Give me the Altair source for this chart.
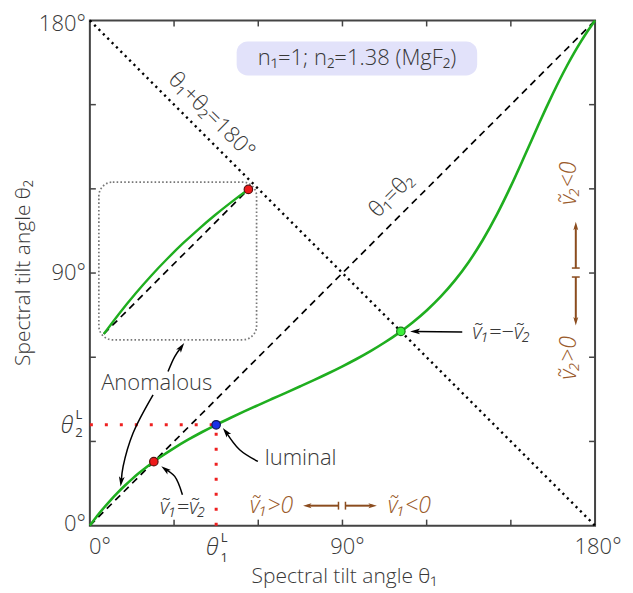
import altair as alt
import pandas as pd

# ---------------- data ----------------
theta1 = [0, 2.5, 5, 7.5, 10, 12.5, 15, 17.5, 20, 22.5, 25, 30, 35, 40, 45, 50, 55, 60, 65, 70,
          75, 80, 85, 90, 95, 100, 105, 110, 115, 120, 125, 130, 135, 140, 145, 150, 155, 160,
          162.5, 165, 167.5, 170, 172.5, 175, 177.5, 180]
theta2 = [0, 3.32, 6.38, 9.22, 11.85, 14.30, 16.58, 18.71, 20.70, 22.58, 24.35, 27.63, 30.61,
          33.36, 35.93, 38.36, 40.70, 42.96, 45.19, 47.41, 49.65, 51.93, 54.29, 56.76, 59.37,
          62.18, 65.24, 68.61, 72.39, 76.67, 81.58, 87.29, 93.96, 101.76, 110.78, 120.95, 131.94,
          143.17, 148.67, 153.98, 159.06, 163.86, 168.35, 172.53, 176.41, 180]

# special points: v1=v2, luminal, v1=-v2
pt_t1 = [22.79, 45.0, 110.81]
pt_t2 = [22.79, 35.93, 69.19]
pt_fill = ["#ee1a1a", "#1a30e8", "#3cf03c"]
pt_stroke = ["#5a1010", "#10185a", "#187818"]

tick_vals = [30, 60, 90, 120, 150]

# inset (magnified anomalous region) placement
INSET_X0, INSET_Y0, INSET_K = 4.98, 68.3, 2.26
inset_box = [3.2, 59.4, 66.2, 122.4]          # x, x2, y, y2

# parameter box
param_box = [52.3, 138.0, 160.4, 172.5]
param_text = "n\u2081=1; n\u2082=1.38 (MgF\u2082)"

# annotation arrows (black)
arr_id = ["a", "a", "a", "b", "b", "b", "b", "c", "c", "c", "d", "d", "d", "e", "e"]
arr_t1 = [27.85, 30.24, 32.54, 22.52, 15.40, 11.85, 11.17, 59.87, 53.36, 48.52, 32.98, 30.24, 26.93, 132.69, 115.97]
arr_t2 = [54.89, 60.23, 63.53, 46.60, 32.98, 21.10, 15.76, 22.87, 27.04, 33.33, 11.03, 17.54, 20.03, 69.01, 69.19]
arr_i = [0, 1, 2, 0, 1, 2, 3, 0, 1, 2, 0, 1, 2, 0, 1]
head_t1 = [32.54, 11.17, 48.52, 26.93, 115.97]
head_t2 = [63.53, 15.76, 33.33, 20.03, 69.19]
head_ang = [35, 187, 322, 307, 270]

# brown velocity-sign arrows
br_id = ["l", "l", "r", "r", "u", "u", "d", "d"]
br_t1 = [88.58, 77.55, 91.07, 100.67, 173.14, 173.14, 173.14, 173.14]
br_t2 = [7.11, 7.11, 7.11, 7.11, 91.78, 106.72, 88.58, 72.93]
br_head_t1 = [77.55, 100.67, 173.14, 173.14]
br_head_t2 = [7.11, 7.11, 106.72, 72.93]
br_head_ang = [270, 90, 0, 180]

# in-plot labels
lab_text = ["\u03b8\u2081+\u03b8\u2082=180\u00b0", "\u03b8\u2081=\u03b8\u2082", "Anomalous", "luminal"]
lab_t1 = [43.4, 107.4, 23.8, 75.1]
lab_t2 = [146.2, 117.8, 50.9, 24.2]
lab_ang = [45, 315, 0, 0]

v_text = ["\u1e7d\u2081=\u1e7d\u2082", "\u1e7d\u2081=\u2212\u1e7d\u2082"]
v_t1 = [33.1, 146.6]
v_t2 = [6.8, 69.0]

bv_text = ["\u1e7d\u2081>0", "\u1e7d\u2081<0", "\u1e7d\u2082<0", "\u1e7d\u2082>0"]
bv_t1 = [64.7, 113.8, 170.8, 170.8]
bv_t2 = [7.1, 7.1, 122.0, 59.8]
bv_ang = [0, 0, 270, 270]

tick_label_vals = [0, 90, 180]
tick_label_text = ["0\u00b0", "90\u00b0", "180\u00b0"]

# ---------------- styling ----------------
W = H = 506
FONT = "Open Sans"
TXT = "#383838"
BROWN = "#8b4c1e"
BROWN_T = "#9a5a2a"
GREEN = "#1fae1f"
XS = alt.Scale(domain=[0, 180], nice=False, zero=False)
YS = alt.Scale(domain=[0, 180], nice=False, zero=False)
HEAD = "M0,-1L0.55,0.9L0,0.45L-0.55,0.9Z"


def X(f):
    return alt.X(f"{f}:Q", scale=XS, axis=None)


def Y(f):
    return alt.Y(f"{f}:Q", scale=YS, axis=None)


layers = []

# parameter box
box_df = pd.DataFrame({"x": [param_box[0]], "x2": [param_box[1]], "y": [param_box[2]], "y2": [param_box[3]]})
layers.append(alt.Chart(box_df).mark_rect(fill="#e2e2fa", cornerRadius=11).encode(
    x=X("x"), x2="x2:Q", y=Y("y"), y2="y2:Q"))
layers.append(alt.Chart(pd.DataFrame({"x": [sum(param_box[:2]) / 2], "y": [sum(param_box[2:]) / 2], "t": [param_text]}))
              .mark_text(font=FONT, fontSize=22, fontWeight=300, color=TXT)
              .encode(x=X("x"), y=Y("y"), text="t:N"))

# ticks (inside, all four sides)
tdf = pd.DataFrame({"v": tick_vals})
tk = dict(color="#444444", strokeWidth=1.5)
layers.append(alt.Chart(tdf).mark_rule(**tk).encode(x=X("v"), y=alt.value(H), y2=alt.value(H - 6)))
layers.append(alt.Chart(tdf).mark_rule(**tk).encode(x=X("v"), y=alt.value(0), y2=alt.value(6)))
layers.append(alt.Chart(tdf).mark_rule(**tk).encode(y=Y("v"), x=alt.value(0), x2=alt.value(6)))
layers.append(alt.Chart(tdf).mark_rule(**tk).encode(y=Y("v"), x=alt.value(W), x2=alt.value(W - 6)))

# reference lines
sum_df = pd.DataFrame({"t1": [0, 180], "t2": [180, 0]})
diag_df = pd.DataFrame({"t1": [0, 180], "t2": [0, 180]})
layers.append(alt.Chart(sum_df).mark_line(color="black", strokeWidth=2.4, strokeDash=[2.2, 4.0]).encode(
    x=X("t1"), y=Y("t2")))
layers.append(alt.Chart(diag_df).mark_line(color="black", strokeWidth=1.7, strokeDash=[7, 5]).encode(
    x=X("t1"), y=Y("t2")))

# red guide lines to luminal point
guide_h = pd.DataFrame({"x": [0], "x2": [pt_t1[1]], "y": [pt_t2[1]]})
guide_v = pd.DataFrame({"x": [pt_t1[1]], "y": [0], "y2": [pt_t2[1]]})
red = dict(color="#ee2020", strokeWidth=3, strokeDash=[3, 12])
layers.append(alt.Chart(guide_h).mark_rule(**red).encode(x=X("x"), x2="x2:Q", y=Y("y")))
layers.append(alt.Chart(guide_v).mark_rule(**red).encode(x=X("x"), y=Y("y"), y2="y2:Q"))

# main curve
curve_df = pd.DataFrame({"t1": theta1, "t2": theta2})
layers.append(alt.Chart(curve_df).mark_line(color=GREEN, strokeWidth=2.6, interpolate="monotone").encode(
    x=X("t1"), y=Y("t2")))

# inset
ib = pd.DataFrame({"x": [inset_box[0]], "x2": [inset_box[1]], "y": [inset_box[2]], "y2": [inset_box[3]]})
layers.append(alt.Chart(ib).mark_rect(fillOpacity=0, stroke="#777777", strokeWidth=1.7,
                                      strokeDash=[1.6, 2.2], cornerRadius=14).encode(
    x=X("x"), x2="x2:Q", y=Y("y"), y2="y2:Q"))
in_t1 = [a for a in theta1 if a < pt_t1[0]] + [pt_t1[0]]
in_t2 = theta2[:len(in_t1) - 1] + [pt_t2[0]]
inset_df = pd.DataFrame({"t1": [INSET_X0 + INSET_K * a for a in in_t1],
                         "t2": [INSET_Y0 + INSET_K * b for b in in_t2]})
inset_diag = pd.DataFrame({"t1": [INSET_X0, INSET_X0 + INSET_K * pt_t1[0]],
                           "t2": [INSET_Y0, INSET_Y0 + INSET_K * pt_t2[0]]})
layers.append(alt.Chart(inset_diag).mark_line(color="black", strokeWidth=1.7, strokeDash=[7, 5]).encode(
    x=X("t1"), y=Y("t2")))
layers.append(alt.Chart(inset_df).mark_line(color=GREEN, strokeWidth=2.4, interpolate="monotone").encode(
    x=X("t1"), y=Y("t2")))

# annotation arrows
arr_df = pd.DataFrame({"id": arr_id, "t1": arr_t1, "t2": arr_t2, "i": arr_i})
layers.append(alt.Chart(arr_df).mark_line(color="black", strokeWidth=1.5, interpolate="catmull-rom").encode(
    x=X("t1"), y=Y("t2"), detail="id:N", order="i:Q"))
head_df = pd.DataFrame({"t1": head_t1, "t2": head_t2, "a": head_ang})
layers.append(alt.Chart(head_df).mark_point(shape=HEAD, filled=True, color="black", opacity=1, size=110).encode(
    x=X("t1"), y=Y("t2"), angle=alt.Angle("a:Q", scale=None)))

# brown arrows
br_df = pd.DataFrame({"id": br_id, "t1": br_t1, "t2": br_t2})
layers.append(alt.Chart(br_df).mark_line(color=BROWN, strokeWidth=2).encode(
    x=X("t1"), y=Y("t2"), detail="id:N"))
brh_df = pd.DataFrame({"t1": br_head_t1, "t2": br_head_t2, "a": br_head_ang})
layers.append(alt.Chart(brh_df).mark_point(shape=HEAD, filled=True, color=BROWN, opacity=1, size=80).encode(
    x=X("t1"), y=Y("t2"), angle=alt.Angle("a:Q", scale=None)))
bar_h = pd.DataFrame({"x": [br_t1[0], br_t1[2]], "y": [br_t2[0] - 1.4] * 2, "y2": [br_t2[0] + 1.4] * 2})
bar_v = pd.DataFrame({"y": [br_t2[4], br_t2[6]], "x": [br_t1[4] - 1.4] * 2, "x2": [br_t1[4] + 1.4] * 2})
layers.append(alt.Chart(bar_h).mark_rule(color=BROWN, strokeWidth=1.5).encode(x=X("x"), y=Y("y"), y2="y2:Q"))
layers.append(alt.Chart(bar_v).mark_rule(color=BROWN, strokeWidth=1.5).encode(y=Y("y"), x=X("x"), x2="x2:Q"))

# special points
pts_df = pd.DataFrame({"t1": pt_t1 + [INSET_X0 + INSET_K * pt_t1[0]],
                       "t2": pt_t2 + [INSET_Y0 + INSET_K * pt_t2[0]],
                       "f": pt_fill + [pt_fill[0]], "s": pt_stroke + [pt_stroke[0]]})
layers.append(alt.Chart(pts_df).mark_point(shape="circle", filled=True, opacity=1, size=72, strokeWidth=1.2).encode(
    x=X("t1"), y=Y("t2"), fill=alt.Fill("f:N", scale=None), stroke=alt.Stroke("s:N", scale=None)))

# labels inside plot
lab_df = pd.DataFrame({"t1": lab_t1, "t2": lab_t2, "t": lab_text, "a": lab_ang})
layers.append(alt.Chart(lab_df).mark_text(font=FONT, fontSize=22, fontWeight=300, color=TXT).encode(
    x=X("t1"), y=Y("t2"), text="t:N", angle=alt.Angle("a:Q", scale=None)))
v_df = pd.DataFrame({"t1": v_t1, "t2": v_t2, "t": v_text})
layers.append(alt.Chart(v_df).mark_text(font=FONT, fontSize=22, fontWeight=300, fontStyle="italic", color=TXT).encode(
    x=X("t1"), y=Y("t2"), text="t:N"))
bv_df = pd.DataFrame({"t1": bv_t1, "t2": bv_t2, "t": bv_text, "a": bv_ang})
layers.append(alt.Chart(bv_df).mark_text(font=FONT, fontSize=23, fontWeight=300, fontStyle="italic", color=BROWN_T).encode(
    x=X("t1"), y=Y("t2"), text="t:N", angle=alt.Angle("a:Q", scale=None)))

# tick labels
x_dx = [10, 5, 3]
y_dy = [-2, 0, 4]
for v, t, d in zip(tick_label_vals, tick_label_text, x_dx):
    layers.append(alt.Chart(pd.DataFrame({"v": [v], "t": [t]})).mark_text(
        font=FONT, fontSize=22, fontWeight=300, color=TXT, dx=d).encode(
        x=X("v"), y=alt.value(H + 21), text="t:N"))
for v, t, d in zip(tick_label_vals, tick_label_text, y_dy):
    layers.append(alt.Chart(pd.DataFrame({"v": [v], "t": [t]})).mark_text(
        font=FONT, fontSize=22, fontWeight=300, color=TXT, align="right", dy=d).encode(
        x=alt.value(-4), y=Y("v"), text="t:N"))

# theta^L labels
thL = pd.DataFrame({"v": [pt_t1[1]]})
layers.append(alt.Chart(thL).mark_text(font=FONT, fontSize=23, fontWeight=300, fontStyle="italic", color=TXT, dx=-4).encode(
    x=X("v"), y=alt.value(H + 22), text=alt.value("\u03b8")))
layers.append(alt.Chart(thL).mark_text(font=FONT, fontSize=13, color=TXT, dx=8).encode(
    x=X("v"), y=alt.value(H + 12), text=alt.value("L")))
layers.append(alt.Chart(thL).mark_text(font=FONT, fontSize=13, color=TXT, dx=8).encode(
    x=X("v"), y=alt.value(H + 32), text=alt.value("1")))
tvL = pd.DataFrame({"v": [pt_t2[1]]})
layers.append(alt.Chart(tvL).mark_text(font=FONT, fontSize=23, fontWeight=300, fontStyle="italic", color=TXT, dy=1).encode(
    x=alt.value(-23), y=Y("v"), text=alt.value("\u03b8")))
layers.append(alt.Chart(tvL).mark_text(font=FONT, fontSize=13, color=TXT, dy=-10).encode(
    x=alt.value(-11), y=Y("v"), text=alt.value("L")))
layers.append(alt.Chart(tvL).mark_text(font=FONT, fontSize=13, color=TXT, dy=8).encode(
    x=alt.value(-11), y=Y("v"), text=alt.value("2")))

# axis titles
layers.append(alt.Chart(pd.DataFrame({"t": ["Spectral tilt angle \u03b8\u2081"]})).mark_text(
    font=FONT, fontSize=21, fontWeight=300, color=TXT).encode(
    x=alt.value(W / 2 + 2), y=alt.value(H + 51), text="t:N"))
layers.append(alt.Chart(pd.DataFrame({"t": ["Spectral tilt angle \u03b8\u2082"]})).mark_text(
    font=FONT, fontSize=21, fontWeight=300, color=TXT, angle=270).encode(
    x=alt.value(-66), y=alt.value(H / 2), text="t:N"))

chart = alt.layer(*layers).properties(
    width=W, height=H,
    padding={"left": 82, "top": 12, "right": 30, "bottom": 64},
    autosize=alt.AutoSizeParams(type="none"),
).configure_view(stroke="#444444", strokeWidth=2)

chart.save("out.html", embed_options={"renderer": "svg", "actions": False})
